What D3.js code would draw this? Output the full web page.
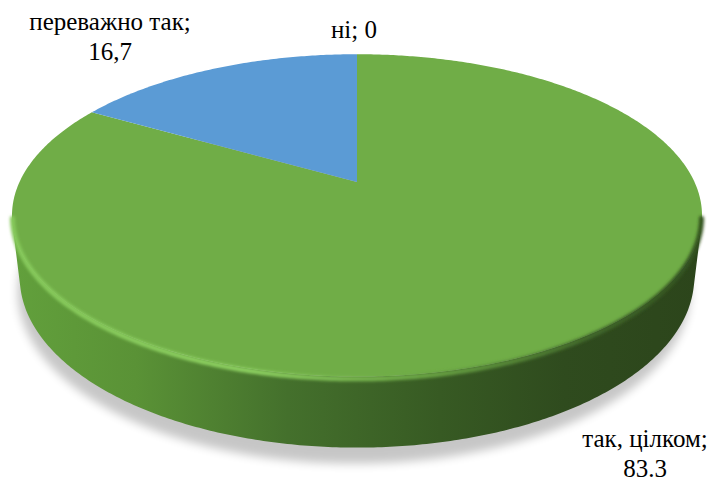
<!DOCTYPE html>
<html>
<head>
<meta charset="UTF-8">
</head>
<body style="margin:0">
<script src="https://cdn.jsdelivr.net/npm/d3@7/dist/d3.min.js"></script>
<script>
// data
var categories = ['так, цілком', 'переважно так', 'ні']
var values = [83.3, 16.7, 0]
var valueLabels = ['83.3', '16,7', '0']
var colors = ['#70ad47', '#5b9bd5', '#a5a5a5']

// label placement (centre x, first line baseline)
var labelPos = [[645, 447], [110, 30], [354, 38]]

var width = 712, height = 486
var cx = 357, cy = 182        // projected centre of the pie top
var k = 337.5                 // projection scale
var tilt = 27.2 * Math.PI / 180
var D = 4.29                  // camera distance (perspective)
var h = 0.207                 // thickness, relative to radius

function project(phi, y, r) {
    if (r === undefined) r = 1
    var X = r * Math.sin(phi), Z = r * Math.cos(phi)
    var yc = Z * Math.sin(tilt) + y * Math.cos(tilt)
    var zc = Z * Math.cos(tilt) - y * Math.sin(tilt)
    var s = 1 / (1 + zc / D)
    return [cx + k * X * s, cy - k * yc * s]
}

function arcPts(a0, a1, y) {
    var n = Math.max(2, Math.ceil(Math.abs(a1 - a0) / 0.01))
    var pts = []
    for (var i = 0; i <= n; i++) pts.push(project(a0 + (a1 - a0) * i / n, y))
    return pts
}

// wall faces the camera where cos(phi) < -1/(D cos(tilt))
var vis = Math.acos(-1 / (D * Math.cos(tilt)))
var vis0 = vis, vis1 = 2 * Math.PI - vis

var pie = d3.pie().sort(null).value(d => d)
var arcs = pie(values)
var line = d3.line()

var svg = d3.select('body').append('svg')
    .attr('width', width).attr('height', height)
    .style('display', 'block')

var defs = svg.append('defs')
defs.append('filter').attr('id', 'shadow').attr('x', '-20%').attr('y', '-20%')
    .attr('width', '140%').attr('height', '140%')
    .append('feGaussianBlur').attr('stdDeviation', 5)
defs.append('filter').attr('id', 'soft').attr('x', '-10%').attr('y', '-10%')
    .attr('width', '120%').attr('height', '120%')
    .append('feGaussianBlur').attr('stdDeviation', 1.6)

var wallGrad = defs.append('linearGradient').attr('id', 'wall')
    .attr('gradientUnits', 'userSpaceOnUse')
    .attr('x1', 12).attr('x2', 702).attr('y1', 0).attr('y2', 0)
var wallStops = [[0, '#62a03c'], [0.18, '#5a9236'], [0.4, '#44702c'], [0.62, '#375a23'], [0.8, '#2f4b1e'], [1, '#2c451b']]
wallStops.forEach(s => wallGrad.append('stop').attr('offset', s[0]).attr('stop-color', s[1]))

var rimGrad = defs.append('linearGradient').attr('id', 'rim')
    .attr('gradientUnits', 'userSpaceOnUse')
    .attr('x1', 12).attr('x2', 702).attr('y1', 0).attr('y2', 0)
var rimStops = [[0, '#86c95b'], [0.35, '#8ccf60'], [0.6, '#6aa444'], [0.85, '#3f6629'], [1, '#33521f']]
rimStops.forEach(s => rimGrad.append('stop').attr('offset', s[0]).attr('stop-color', s[1]))

// drop shadow under the disc
var shadowPts = arcPts(0, 2 * Math.PI, -h - 0.03).map(p => [p[0] - 3, p[1] + 6])
svg.append('path')
    .attr('d', line(shadowPts) + 'Z')
    .attr('fill', '#000').attr('opacity', 0.22)
    .attr('filter', 'url(#shadow)')

// walls
var walls = svg.append('g')
arcs.forEach(function (a, i) {
    var a0 = Math.max(a.startAngle, vis0), a1 = Math.min(a.endAngle, vis1)
    if (a1 <= a0) return
    var top = arcPts(a0, a1, 0)
    var bot = arcPts(a1, a0, -h)
    walls.append('path')
        .attr('d', line(top.concat(bot)) + 'Z')
        .attr('fill', i === 0 ? 'url(#wall)' : d3.color(colors[i]).darker(1))
})

// top faces
var tops = svg.append('g')
arcs.forEach(function (a, i) {
    if (a.endAngle - a.startAngle <= 0) return
    var pts = [project(0, 0, 0)].concat(arcPts(a.startAngle, a.endAngle, 0))
    tops.append('path')
        .attr('d', line(pts) + 'Z')
        .attr('fill', colors[i])
})

// bevel highlight along the front edge
var rimPts = arcPts(vis0 - 0.05, vis1 + 0.05, -0.012).map(p => [p[0], p[1] - 2])
svg.append('path')
    .attr('d', line(rimPts))
    .attr('fill', 'none')
    .attr('stroke', 'url(#rim)')
    .attr('stroke-width', 5)
    .attr('stroke-linecap', 'round')
    .attr('filter', 'url(#soft)')

// data labels
var labels = svg.append('g')
categories.forEach(function (c, i) {
    var p = labelPos[i]
    var t = labels.append('text').attr('x', p[0]).attr('y', p[1])
        .style('font-family', "'Liberation Serif', 'Times New Roman', Tinos, serif", 'important')
        .style('font-size', '25px', 'important')
        .attr('fill', '#000')
        .attr('text-anchor', 'middle')
    if (values[i] === 0) {
        t.text(c + '; ' + valueLabels[i])
    } else {
        t.append('tspan').attr('x', p[0]).text(c + ';')
        t.append('tspan').attr('x', p[0]).attr('dy', 30).text(valueLabels[i])
    }
})
</script>
</body>
</html>
